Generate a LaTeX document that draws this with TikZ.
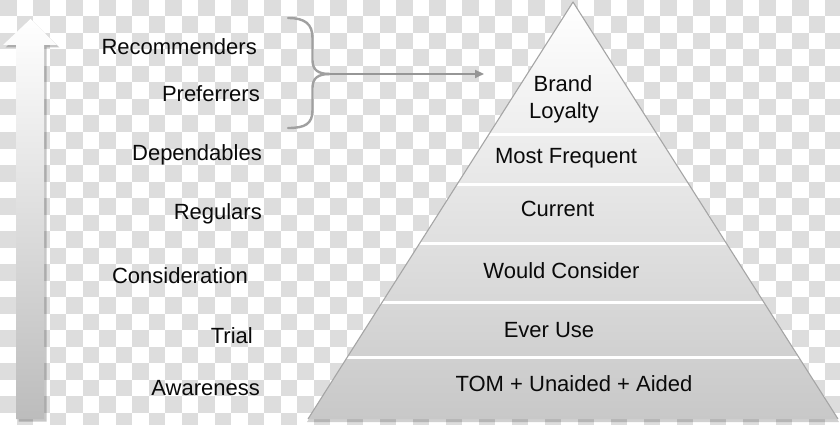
\documentclass[tikz,border=0pt]{standalone}
\usepackage{fontspec}
\setmainfont{Liberation Sans}
\usetikzlibrary{arrows.meta,calc}
\definecolor{chk}{RGB}{221,221,221}
\definecolor{txt}{RGB}{10,10,10}
\definecolor{bracegray}{RGB}{160,160,160}
\definecolor{arrowgray}{RGB}{150,150,150}
\definecolor{pyrbot}{RGB}{200,200,200}
\definecolor{pyredge}{RGB}{165,165,165}
\definecolor{arrbot}{RGB}{188,188,188}
\tikzset{
  lbl/.style={font=\fontsize{22}{26}\selectfont, text=txt, inner sep=0pt, anchor=base east},
  ptxt/.style={font=\fontsize{22}{26}\selectfont, text=txt, inner sep=0pt, anchor=base},
  bracestyle/.style={draw=bracegray, line width=2.4pt, line cap=round},
  sep/.style={draw=white, line width=3pt}
}
\begin{document}
\begin{tikzpicture}[x=1pt,y=-1pt]
\useasboundingbox (0,0) rectangle (840,425);
% checkerboard background
\fill[white] (0,0) rectangle (840,425);
\begin{scope}
\clip (0,0) rectangle (840,425);
\foreach \i in {0,...,50}{
  \foreach \j in {0,...,25}{
    \pgfmathtruncatemacro\k{mod(\i+\j,2)}
    \ifnum\k=0
      \fill[chk] ({\i*16.5},{\j*16.5}) rectangle ({(\i+1)*16.5},{(\j+1)*16.5});
    \fi
  }
}
\end{scope}
% left arrow
\fill[black,opacity=0.22] (18.5,421.5) -- (18.5,47.5) -- (5.5,47.5) -- (33,21.5) -- (59.5,47.5) -- (46.5,47.5) -- (46.5,421.5) -- cycle;
\shade[top color=white, bottom color=arrbot] (16,419) -- (16,45) -- (3,45) -- (30.5,19) -- (57,45) -- (44,45) -- (44,419) -- cycle;
% pyramid
\coordinate (apex) at (573,2);
\coordinate (bl) at (308,419);
\coordinate (br) at (838,419);
\fill[black,opacity=0.18] ($(apex)+(0,3)$) -- ($(br)+(1,3)$) -- ($(bl)+(-1,3)$) -- cycle;
\shade[top color=white, bottom color=pyrbot] (apex) -- (br) -- (bl) -- cycle;
\begin{scope}
\clip (apex) -- (br) -- (bl) -- cycle;
\foreach \yy in {134.5,184,243,302,357}{
  \draw[sep] (300,\yy) -- (845,\yy);
}
\end{scope}
\draw[pyredge, line width=1.1pt, line join=round] (bl) -- (apex) -- (br);
% pyramid texts
\node[ptxt] (brand) at (563,91.5) {Brand};
\node[ptxt] (loyalty) at (564,118) {Loyalty};
\node[ptxt] (mostfreq) at (566,163) {Most Frequent};
\node[ptxt] (current) at (557.5,216.5) {Current};
\node[ptxt] (wouldcons) at (561.5,278) {Would Consider};
\node[ptxt] (everuse) at (549,337) {Ever Use};
\node[ptxt] (tom) at (574,391) {TOM + Unaided + Aided};
% left labels
\node[lbl] (recomm) at (257,55) {Recommenders};
\node[lbl] (prefer) at (260,101.5) {Preferrers};
\node[lbl] (depend) at (262,160.5) {Dependables};
\node[lbl] (regul) at (262,219) {Regulars};
\node[lbl] (consid) at (248,283) {Consideration};
\node[lbl] (trial) at (253,343) {Trial};
\node[lbl] (aware) at (260,395) {Awareness};
% brace and arrow
\coordinate (bracetop) at (288,18);
\coordinate (bracebot) at (288,128);
\coordinate (cusp) at (330,74);
\coordinate (arrowend) at (484,74);
\draw[bracestyle] (bracetop) .. controls (305,18) and (312.5,24) .. (312.5,38) -- (312.5,60) .. controls (312.5,70) and (318,74) .. (cusp);
\draw[bracestyle] (cusp) .. controls (318,74) and (312.5,78) .. (312.5,88) -- (312.5,110) .. controls (312.5,124) and (305,128) .. (bracebot);
\draw[draw=arrowgray, line width=2.6pt, -{Triangle[length=9pt,width=8pt]}] (cusp) -- (arrowend);
\end{tikzpicture}
\end{document}
